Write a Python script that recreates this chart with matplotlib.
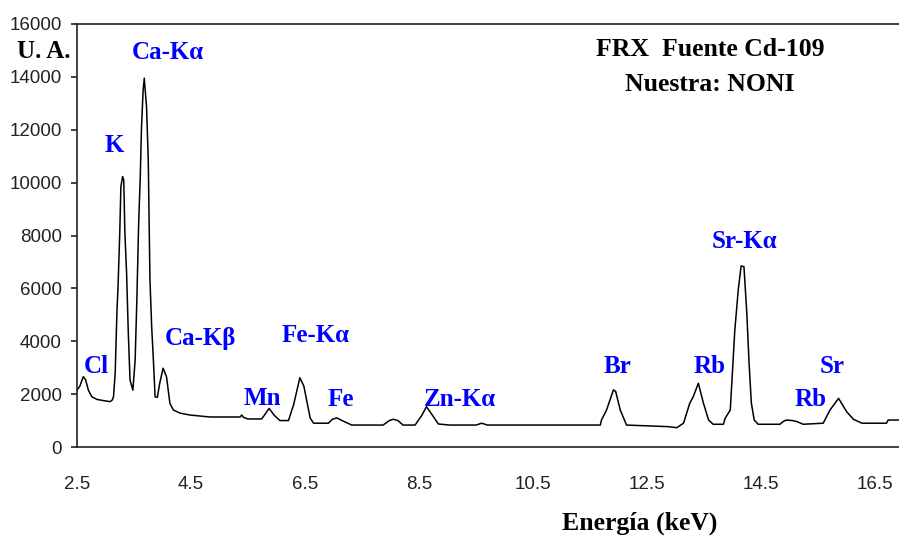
import matplotlib
matplotlib.use("Agg")
import matplotlib.pyplot as plt

# spectrum (energy in keV, counts)
energia = [2.50, 2.55, 2.61, 2.65, 2.70, 2.76, 2.85, 2.95, 3.08, 3.12, 3.14, 3.17,
           3.20, 3.22, 3.25, 3.27, 3.30, 3.32, 3.34, 3.37, 3.40, 3.43, 3.48,
           3.52, 3.55, 3.58, 3.61, 3.63, 3.66, 3.68, 3.70, 3.72, 3.75, 3.78,
           3.81, 3.84, 3.87, 3.91, 3.95, 4.01, 4.07, 4.13, 4.19, 4.31, 4.48,
           4.83, 5.36, 5.39, 5.42, 5.50, 5.74, 5.87, 5.96, 6.06, 6.21, 6.30,
           6.41, 6.48, 6.59, 6.65, 6.91, 6.98, 7.06, 7.15, 7.32, 7.87, 7.98,
           8.05, 8.13, 8.22, 8.43, 8.55, 8.63, 8.72, 8.84, 9.04, 9.50, 9.60,
           9.70, 11.68, 11.70, 11.79, 11.91, 11.95, 12.03, 12.14, 12.87, 13.02,
           13.14, 13.25, 13.31, 13.40, 13.49, 13.58, 13.66, 13.84, 13.87, 13.96,
           14.00, 14.04, 14.10, 14.15, 14.20, 14.25, 14.29, 14.33, 14.38, 14.45,
           14.83, 14.90, 14.95, 15.05, 15.13, 15.24, 15.59, 15.71, 15.86, 16.00,
           16.12, 16.27, 16.70, 16.73, 16.92]
cuentas = [2150, 2300, 2660, 2550, 2150, 1900, 1800, 1760, 1715, 1780, 1900, 2800,
           5070, 6070, 8100, 9850, 10230, 10100, 8100, 6580, 4310, 2540, 2150,
           3290, 5560, 8340, 10230, 12000, 13500, 13950, 13400, 12880, 10860, 6320,
           4550, 3290, 1900, 1880, 2400, 2980, 2660, 1650, 1400, 1280, 1210,
           1135, 1135, 1210, 1120, 1060, 1060, 1460, 1200, 1000, 1000, 1600,
           2620, 2300, 1100, 900, 900, 1050, 1100, 1000, 830, 830, 1000,
           1050, 1000, 830, 830, 1200, 1525, 1250, 870, 830, 830, 900,
           830, 830, 1020, 1400, 2160, 2100, 1400, 830, 770, 730,
           900, 1660, 1900, 2410, 1650, 1020, 860, 860, 1085, 1400,
           2910, 4430, 5940, 6850, 6820, 5070, 3170, 1660, 1020, 860,
           860, 980, 1020, 1000, 960, 860, 900, 1400, 1840, 1340,
           1050, 900, 900, 1020, 1020]

# peak labels and where they sit
etiquetas = ["Cl", "K", "Ca-K\u03b1", "Ca-K\u03b2", "Mn", "Fe-K\u03b1", "Fe",
             "Zn-K\u03b1", "Br", "Rb", "Sr-K\u03b1", "Rb", "Sr"]
etiq_x = [2.84, 3.15, 4.10, 4.66, 5.75, 6.68, 7.13, 9.22, 11.99, 13.60, 14.21, 15.36, 15.75]
etiq_y = [3030, 11390, 14910, 4120, 1820, 4200, 1780, 1780, 3030, 3030, 7760, 1780, 3030]

xticks = [2.5, 4.5, 6.5, 8.5, 10.5, 12.5, 14.5, 16.5]
yticks = list(range(0, 16001, 2000))

fig = plt.figure(figsize=(8.99, 5.37), dpi=100)
ax = fig.add_axes([77/899, 1 - 447/537, 1 - 77/899, (447 - 24)/537])

ax.plot(energia, cuentas, color="black", lw=1.1)

ax.set_xlim(2.5, 16.92)
ax.set_ylim(0, 16000)
ax.set_xticks(xticks)
ax.set_xticklabels([str(v) for v in xticks])
ax.set_yticks(yticks)

for s in ["left", "top", "bottom"]:
    ax.spines[s].set_color("#222222")
    ax.spines[s].set_linewidth(1.2)
ax.spines["right"].set_visible(False)

ax.tick_params(axis="x", length=0, pad=21)
ax.tick_params(axis="y", length=4, width=1.2, direction="out", pad=7, color="#222222")
for lab in ax.get_xticklabels() + ax.get_yticklabels():
    lab.set_family("Liberation Sans")
    lab.set_fontsize(13.5)
    lab.set_color("#222222")

serif = "Liberation Serif"
for t, x, y in zip(etiquetas, etiq_x, etiq_y):
    ax.text(x, y, t, color="#0000ff", fontsize=18, fontweight="bold",
            family=serif, ha="center", va="center")

fig.text(44/899, 1 - 52/537, "U. A.", fontsize=18, fontweight="bold",
         family=serif, ha="center", va="center")
fig.text(710/899, 1 - 50/537, "FRX  Fuente Cd-109", fontsize=18.5, fontweight="bold",
         family=serif, ha="center", va="center")
fig.text(710/899, 1 - 84/537, "Nuestra: NONI", fontsize=18.5, fontweight="bold",
         family=serif, ha="center", va="center")
fig.text(640/899, 1 - 523/537, "Energía (keV)", fontsize=18.5, fontweight="bold",
         family=serif, ha="center", va="center")

fig.savefig("out.png", dpi=100)
